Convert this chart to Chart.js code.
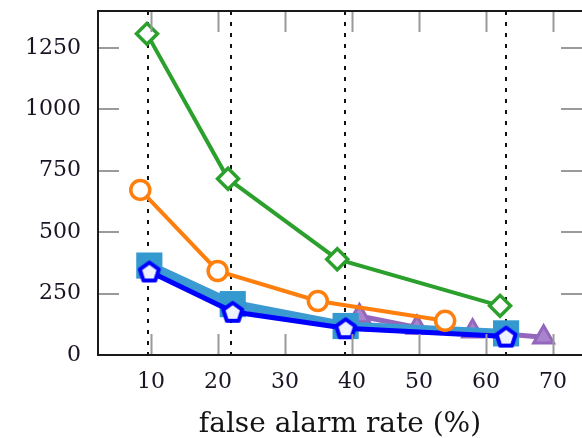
<!DOCTYPE html>
<html>
<head>
<meta charset="utf-8">
<script src="https://cdn.jsdelivr.net/npm/chart.js@4"></script>
<style>
  html, body { margin: 0; padding: 0; background: #fff; overflow: hidden; }
  canvas { display: block; }
</style>
</head>
<body>
<canvas id="chartAlarmas" width="582" height="438"></canvas>
<script>
// false alarm rate (%) / count pairs for each curve
const diamondRate = [9.4, 21.5, 37.8, 62.1];
const diamondCount = [1307, 717, 390, 200];

const circleRate = [8.4, 19.95, 34.9, 53.9];
const circleCount = [672, 342, 220, 139];

const squareRate = [9.75, 22.2, 39.05, 63.0];
const squareCount = [364, 207, 118, 88];

const pentagonRate = [9.75, 22.2, 39.05, 63.0];
const pentagonCount = [340, 176, 109, 75];

const triangleRate = [41.1, 49.7, 58.0, 68.6];
const triangleCount = [159, 112, 97, 72];

// dotted reference lines
const markerRates = [9.5, 22.0, 39.0, 63.0];

const xTicks = [10, 20, 30, 40, 50, 60, 70];
const yTicks = [0, 250, 500, 750, 1000, 1250];

function pairs(xs, ys) {
  return xs.map((x, i) => ({ x: x, y: ys[i] }));
}

function pentagon(size, stroke, fill, lw) {
  const c = document.createElement('canvas');
  c.width = c.height = size;
  const g = c.getContext('2d');
  const r = size / 2 - lw;
  g.beginPath();
  for (let i = 0; i < 5; i++) {
    const a = -Math.PI / 2 + i * 2 * Math.PI / 5;
    const px = size / 2 + r * Math.cos(a);
    const py = size / 2 + 1 + r * Math.sin(a);
    if (i) g.lineTo(px, py); else g.moveTo(px, py);
  }
  g.closePath();
  g.fillStyle = fill;
  g.fill();
  g.lineWidth = lw;
  g.lineJoin = 'round';
  g.strokeStyle = stroke;
  g.stroke();
  return c;
}

// box, inward ticks and dotted verticals
const frame = {
  id: 'frame',
  beforeDatasetsDraw(chart) {
    const { ctx, chartArea: a, scales: { x } } = chart;
    ctx.save();
    ctx.strokeStyle = '#111';
    ctx.lineWidth = 2;
    ctx.setLineDash([4, 7]);
    markerRates.forEach(v => {
      const px = Math.round(x.getPixelForValue(v));
      ctx.beginPath();
      ctx.moveTo(px, a.top);
      ctx.lineTo(px, a.bottom);
      ctx.stroke();
    });
    ctx.restore();
  },
  afterDraw(chart) {
    const { ctx, chartArea: a, scales: { x, y } } = chart;
    ctx.save();
    ctx.strokeStyle = '#9a9a9a';
    ctx.lineWidth = 2;
    const len = 21;
    xTicks.forEach(v => {
      const px = Math.round(x.getPixelForValue(v)) + 0.5;
      ctx.beginPath();
      ctx.moveTo(px, a.bottom); ctx.lineTo(px, a.bottom - len);
      ctx.moveTo(px, a.top); ctx.lineTo(px, a.top + len);
      ctx.stroke();
    });
    yTicks.slice(1).forEach(v => {
      const py = Math.round(y.getPixelForValue(v));
      ctx.beginPath();
      ctx.moveTo(a.left, py); ctx.lineTo(a.left + len, py);
      ctx.moveTo(a.right, py); ctx.lineTo(a.right - len, py);
      ctx.stroke();
    });
    ctx.strokeStyle = '#1a1a1a';
    ctx.lineWidth = 2;
    ctx.beginPath();
    ctx.moveTo(a.right + 2, a.top);
    ctx.lineTo(a.left, a.top);
    ctx.lineTo(a.left, a.bottom);
    ctx.lineTo(a.right + 2, a.bottom);
    ctx.stroke();
    ctx.restore();
  }
};

const ctx = document.getElementById('chartAlarmas');

new Chart(ctx, {
  type: 'line',
  data: {
    datasets: [{
      data: pairs(diamondRate, diamondCount),
      borderColor: '#2ca02c',
      borderWidth: 4,
      pointStyle: 'rectRot',
      pointRadius: 10.5,
      pointBorderWidth: 3.5,
      pointBackgroundColor: '#fff',
      pointBorderColor: '#2ca02c',
      order: 1
    }, {
      data: pairs(circleRate, circleCount),
      borderColor: '#ff7f0e',
      borderWidth: 4,
      pointStyle: 'circle',
      pointRadius: 9.5,
      pointBorderWidth: 3.5,
      pointBackgroundColor: '#fff',
      pointBorderColor: '#ff7f0e',
      order: 2
    }, {
      data: pairs(pentagonRate, pentagonCount),
      borderColor: '#0000ff',
      borderWidth: 5,
      pointStyle: pentagon(28, '#0000ff', '#eef2ff', 4),
      order: 3
    }, {
      data: pairs(squareRate, squareCount),
      borderColor: '#3b9ad2',
      borderWidth: 9,
      pointStyle: 'rect',
      pointRadius: 18.5,
      pointBorderWidth: 0,
      pointBackgroundColor: '#3399cf',
      order: 4
    }, {
      data: pairs(triangleRate, triangleCount),
      borderColor: '#9467bd',
      borderWidth: 5,
      pointStyle: 'triangle',
      pointRadius: 11.5,
      pointBorderWidth: 3,
      pointBackgroundColor: '#a884cc',
      pointBorderColor: '#9467bd',
      order: 5
    }]
  },
  options: {
    responsive: false,
    animation: false,
    layout: { autoPadding: false, padding: { top: 11, right: 0, left: 0, bottom: 0 } },
    plugins: { legend: { display: false }, tooltip: { enabled: false } },
    elements: { line: { tension: 0 } },
    scales: {
      x: {
        type: 'linear',
        min: 2.09,
        max: 74.33,
        afterFit: s => {
          s.height = 83;
          s.paddingLeft = 0;
          s.paddingRight = 0;
        },
        afterBuildTicks: s => { s.ticks = xTicks.map(v => ({ value: v })); },
        grid: { display: false, drawTicks: false },
        border: { display: false },
        ticks: {
          padding: 14,
          color: '#1c1424',
          callback: v => String(v),
          font: { family: 'DejaVu Serif', size: 22 }
        },
        title: {
          display: true,
          text: 'false alarm rate (%)',
          color: '#141414',
          padding: { top: 0, bottom: -4 },
          font: { family: 'DejaVu Serif', size: 28 }
        }
      },
      y: {
        min: 0,
        max: 1400,
        afterFit: s => {
          s.width = 98;
          s.paddingTop = 0;
          s.paddingBottom = 0;
        },
        afterBuildTicks: s => { s.ticks = yTicks.map(v => ({ value: v })); },
        grid: { display: false, drawTicks: false },
        border: { display: false },
        ticks: {
          padding: 17,
          color: '#1c1424',
          callback: v => String(v),
          font: { family: 'DejaVu Serif', size: 22 }
        }
      }
    }
  },
  plugins: [frame]
});
</script>
</body>
</html>
